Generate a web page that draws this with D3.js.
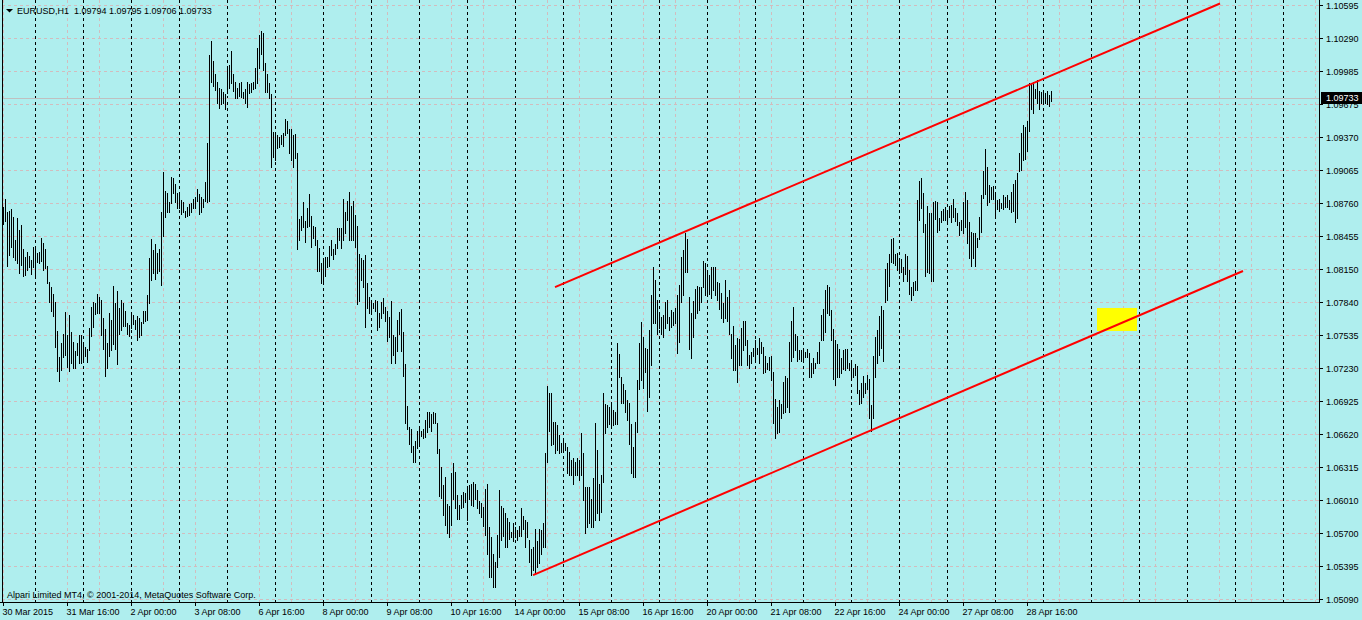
<!DOCTYPE html>
<html lang="en">
<head>
<meta charset="UTF-8">
<title>EURUSD,H1</title>
<script src="https://cdnjs.cloudflare.com/ajax/libs/d3/7.8.0/d3.min.js"></script>
<style>
  html, body { margin: 0; padding: 0; background: #afeeee; overflow: hidden; }
  svg { display: block; font-family: "Liberation Sans", Arial, sans-serif; font-size: 9px; }
  .hdr { white-space: pre; }
</style>
</head>
<body>
<svg id="chart" width="1362" height="620"></svg>
<script>
// EURUSD H1 bars, first bar 30 Mar 2015 08:00, one row per trading day
const barHigh = [
  1.0872,1.0880,1.0868,1.0869,1.0870,1.0863,1.0842,1.0862,1.0851,1.0856,1.0833,1.0826,1.0831,1.0827,1.0823,1.0835,
  1.0834,1.0830,1.0831,1.0844,1.0839,1.0833,1.0818,1.0803,1.0798,1.0792,1.0784,1.0757,1.0733,1.0746,1.0755,1.0775,1.0754,1.0772,1.0756,1.0747,1.0739,1.0746,1.0754,1.0754,
  1.0745,1.0743,1.0741,1.0760,1.0780,1.0784,1.0783,1.0792,1.0789,1.0786,1.0769,1.0759,1.0746,1.0774,1.0768,1.0799,1.0783,1.0794,1.0779,1.0786,1.0783,1.0776,1.0765,1.0763,
  1.0773,1.0772,1.0768,1.0771,1.0769,1.0766,1.0776,1.0776,1.0791,1.0825,1.0843,1.0832,1.0838,1.0830,1.0833,1.0868,1.0905,1.0887,1.0885,1.0877,1.0900,1.0899,1.0894,1.0885,
  1.0885,1.0879,1.0877,1.0869,1.0872,1.0875,1.0876,1.0880,1.0882,1.0889,1.0884,1.0882,1.0880,1.0895,1.0932,1.1013,1.1026,1.1008,1.0996,1.0988,1.0983,1.0982,1.0979,1.0977,
  1.1003,1.1004,1.1017,1.0996,1.0988,1.0983,1.0987,1.0988,1.0979,1.0982,1.0988,1.0986,1.0987,1.0988,1.1001,1.1020,1.1032,1.1035,1.1034,1.1006,1.0996,1.0987,1.0977,1.0942,
  1.0940,1.0939,1.0937,1.0939,1.0941,1.0954,1.0952,1.0945,1.0945,1.0939,1.0940,1.0922,1.0861,1.0864,1.0877,1.0859,1.0871,1.0884,1.0864,1.0855,1.0854,1.0842,1.0834,1.0820,
  1.0823,1.0826,1.0826,1.0836,1.0842,1.0833,1.0838,1.0853,1.0853,1.0853,1.0880,1.0868,1.0878,1.0886,1.0873,1.0878,1.0865,1.0855,1.0829,1.0825,1.0823,1.0828,1.0802,1.0789,
  1.0785,1.0783,1.0786,1.0785,1.0774,1.0784,1.0788,1.0780,1.0776,1.0770,1.0785,1.0754,1.0752,1.0768,1.0775,1.0778,1.0756,1.0727,1.0688,1.0668,1.0667,1.0651,1.0655,1.0665,
  1.0667,1.0665,1.0667,1.0675,1.0682,1.0682,1.0680,1.0682,1.0681,1.0672,1.0648,1.0631,1.0615,1.0622,1.0597,1.0595,1.0626,1.0635,1.0627,1.0605,1.0596,1.0605,1.0608,1.0607,
  1.0612,1.0615,1.0616,1.0617,1.0616,1.0610,1.0600,1.0598,1.0594,1.0611,1.0616,1.0576,1.0566,1.0551,1.0543,1.0568,1.0610,1.0595,1.0593,1.0589,1.0584,1.0580,1.0571,1.0579,
  1.0576,1.0573,1.0577,1.0593,1.0586,1.0582,1.0580,1.0564,1.0555,1.0557,1.0574,1.0563,1.0574,1.0573,1.0579,1.0644,1.0706,1.0700,1.0700,1.0673,1.0673,1.0670,1.0661,1.0654,
  1.0658,1.0654,1.0650,1.0645,1.0638,1.0640,1.0636,1.0640,1.0638,1.0663,1.0644,1.0613,1.0613,1.0613,1.0602,1.0621,1.0672,1.0647,1.0616,1.0624,1.0700,1.0690,1.0689,1.0687,
  1.0689,1.0684,1.0682,1.0746,1.0736,1.0715,1.0708,1.0703,1.0693,1.0691,1.0671,1.0650,1.0673,1.0712,1.0746,1.0766,1.0752,1.0742,1.0741,1.0758,1.0791,1.0817,1.0805,1.0786,
  1.0772,1.0770,1.0772,1.0784,1.0786,1.0770,1.0777,1.0775,1.0779,1.0791,1.0800,1.0826,1.0832,1.0848,1.0843,1.0789,1.0774,1.0785,1.0796,1.0799,1.0798,1.0798,1.0822,1.0820,
  1.0814,1.0809,1.0817,1.0817,1.0817,1.0803,1.0802,1.0793,1.0783,1.0805,1.0789,1.0795,1.0755,1.0762,1.0744,1.0751,1.0750,1.0760,1.0767,1.0767,1.0749,1.0735,1.0738,1.0742,
  1.0749,1.0742,1.0751,1.0747,1.0743,1.0734,1.0728,1.0733,1.0734,1.0719,1.0694,1.0687,1.0693,1.0690,1.0710,1.0716,1.0714,1.0747,1.0767,1.0780,1.0755,1.0753,1.0740,1.0740,
  1.0740,1.0738,1.0741,1.0737,1.0728,1.0732,1.0728,1.0738,1.0747,1.0772,1.0778,1.0795,1.0800,1.0798,1.0777,1.0759,1.0749,1.0745,1.0741,1.0732,1.0740,1.0741,1.0741,1.0728,
  1.0728,1.0723,1.0727,1.0725,1.0703,1.0709,1.0716,1.0709,1.0717,1.0713,1.0689,1.0734,1.0752,1.0758,1.0771,1.0781,1.0777,1.0815,1.0820,1.0829,1.0843,1.0844,1.0829,1.0830,
  1.0824,1.0824,1.0817,1.0829,1.0827,1.0814,1.0798,1.0803,1.0804,1.0879,1.0896,1.0899,1.0885,1.0857,1.0873,1.0867,1.0867,1.0877,1.0878,1.0877,1.0862,1.0869,1.0870,1.0872,
  1.0868,1.0873,1.0874,1.0880,1.0871,1.0867,1.0858,1.0860,1.0877,1.0886,1.0879,1.0858,1.0849,1.0848,1.0848,1.0844,1.0863,1.0883,1.0906,1.0926,1.0909,1.0893,1.0891,1.0892,
  1.0883,1.0879,1.0880,1.0876,1.0883,1.0882,1.0883,1.0879,1.0886,1.0894,1.0897,1.0904,1.0922,1.0941,1.0948,1.0946,1.0952,1.0987,1.0987,1.0988,1.0982,1.0990,1.0980,1.0979,
  1.0978,1.0978,1.0980,1.0976,1.09795
];
const barLow = [
  1.0857,1.0859,1.0818,1.0828,1.0835,1.0826,1.0823,1.0820,1.0811,1.0819,1.0808,1.0809,1.0814,1.0817,1.0810,1.0817,
  1.0809,1.0821,1.0820,1.0822,1.0814,1.0816,1.0802,1.0784,1.0776,1.0771,1.0743,1.0720,1.0711,1.0721,1.0733,1.0735,1.0724,1.0720,1.0728,1.0723,1.0723,1.0735,1.0728,1.0728,
  1.0730,1.0734,1.0729,1.0740,1.0753,1.0761,1.0773,1.0774,1.0774,1.0754,1.0741,1.0716,1.0723,1.0734,1.0740,1.0745,1.0741,1.0727,1.0755,1.0758,1.0762,1.0762,1.0755,1.0753,
  1.0760,1.0764,1.0759,1.0749,1.0752,1.0754,1.0765,1.0767,1.0768,1.0783,1.0805,1.0811,1.0806,1.0811,1.0813,1.0800,1.0845,1.0863,1.0868,1.0868,1.0876,1.0885,1.0877,1.0871,
  1.0871,1.0866,1.0868,1.0863,1.0864,1.0865,1.0868,1.0871,1.0871,1.0878,1.0866,1.0868,1.0872,1.0878,1.0877,1.0878,1.0988,1.0984,1.0981,1.0969,1.0964,1.0968,1.0969,1.0963,
  1.0978,1.0983,1.0987,1.0980,1.0973,1.0973,1.0975,1.0974,1.0973,1.0969,1.0965,1.0978,1.0979,1.0982,1.0983,1.0987,1.1001,1.1014,1.0999,1.0979,1.0979,1.0973,1.0909,1.0919,
  1.0916,1.0927,1.0928,1.0931,1.0929,1.0939,1.0941,1.0922,1.0916,1.0909,1.0918,1.0833,1.0842,1.0851,1.0854,1.0840,1.0854,1.0855,1.0835,1.0844,1.0837,1.0813,1.0813,1.0802,
  1.0804,1.0808,1.0817,1.0818,1.0828,1.0824,1.0829,1.0834,1.0842,1.0834,1.0842,1.0848,1.0860,1.0842,1.0842,1.0842,1.0835,1.0782,1.0785,1.0805,1.0798,1.0761,1.0779,1.0774,
  1.0775,1.0779,1.0776,1.0758,1.0761,1.0769,1.0774,1.0767,1.0748,1.0752,1.0728,1.0735,1.0728,1.0739,1.0755,1.0739,1.0716,1.0672,1.0667,1.0653,1.0645,1.0636,1.0636,1.0649,
  1.0654,1.0660,1.0658,1.0659,1.0664,1.0668,1.0665,1.0672,1.0672,1.0644,1.0604,1.0603,1.0587,1.0578,1.0570,1.0566,1.0578,1.0602,1.0593,1.0583,1.0583,1.0593,1.0594,1.0599,
  1.0582,1.0602,1.0596,1.0595,1.0602,1.0593,1.0589,1.0585,1.0577,1.0568,1.0551,1.0529,1.0529,1.0520,1.0520,1.0539,1.0548,1.0564,1.0567,1.0557,1.0557,1.0565,1.0566,1.0563,
  1.0566,1.0564,1.0567,1.0567,1.0574,1.0557,1.0566,1.0543,1.0531,1.0536,1.0533,1.0539,1.0542,1.0551,1.0557,1.0557,1.0636,1.0665,1.0652,1.0653,1.0644,1.0647,1.0644,1.0645,
  1.0647,1.0647,1.0626,1.0624,1.0624,1.0616,1.0624,1.0624,1.0619,1.0624,1.0601,1.0570,1.0576,1.0579,1.0576,1.0576,1.0582,1.0589,1.0582,1.0590,1.0617,1.0663,1.0668,1.0671,
  1.0668,1.0670,1.0671,1.0671,1.0715,1.0691,1.0691,1.0682,1.0675,1.0653,1.0626,1.0622,1.0622,1.0664,1.0704,1.0712,1.0705,1.0719,1.0683,1.0696,1.0726,1.0765,1.0765,1.0755,
  1.0760,1.0755,1.0752,1.0760,1.0765,1.0758,1.0761,1.0763,1.0765,1.0737,1.0747,1.0784,1.0791,1.0812,1.0812,1.0741,1.0732,1.0752,1.0769,1.0774,1.0777,1.0784,1.0798,1.0791,
  1.0792,1.0792,1.0788,1.0795,1.0791,1.0786,1.0778,1.0769,1.0766,1.0769,1.0767,1.0755,1.0732,1.0721,1.0721,1.0710,1.0726,1.0726,1.0740,1.0744,1.0726,1.0723,1.0728,1.0734,
  1.0730,1.0736,1.0728,1.0737,1.0718,1.0719,1.0722,1.0721,1.0712,1.0672,1.0658,1.0663,1.0664,1.0677,1.0681,1.0682,1.0687,1.0682,1.0730,1.0733,1.0740,1.0730,1.0731,1.0730,
  1.0731,1.0733,1.0733,1.0715,1.0715,1.0718,1.0723,1.0728,1.0728,1.0749,1.0749,1.0756,1.0774,1.0772,1.0749,1.0713,1.0707,1.0715,1.0715,1.0718,1.0722,1.0721,1.0723,1.0721,
  1.0715,1.0715,1.0717,1.0700,1.0690,1.0691,1.0696,1.0700,1.0704,1.0677,1.0665,1.0677,1.0715,1.0728,1.0735,1.0742,1.0730,1.0784,1.0786,1.0799,1.0821,1.0820,1.0819,1.0814,
  1.0811,1.0812,1.0804,1.0810,1.0804,1.0792,1.0786,1.0791,1.0795,1.0795,1.0860,1.0871,1.0849,1.0808,1.0812,1.0811,1.0804,1.0804,1.0861,1.0849,1.0851,1.0858,1.0860,1.0860,
  1.0859,1.0863,1.0858,1.0863,1.0859,1.0856,1.0846,1.0851,1.0848,1.0854,1.0839,1.0825,1.0818,1.0825,1.0818,1.0835,1.0843,1.0849,1.0881,1.0884,1.0874,1.0877,1.0880,1.0880,
  1.0865,1.0870,1.0869,1.0871,1.0870,1.0872,1.0872,1.0870,1.0868,1.0869,1.0858,1.0862,1.0906,1.0907,1.0916,1.0917,1.0924,1.0943,1.0963,1.0959,1.0973,1.0969,1.0963,1.0969,
  1.0969,1.0969,1.0968,1.0966,1.09706
];

const symbol = "EURUSD";
const timeframe = "H1";
const lastOHLC = [1.09794, 1.09795, 1.09706, 1.09733];

const priceTicks = [1.10595, 1.10290, 1.09985, 1.09675, 1.09370, 1.09065, 1.08760, 1.08455, 1.08150, 1.07840,
                    1.07535, 1.07230, 1.06925, 1.06620, 1.06315, 1.06010, 1.05700, 1.05395, 1.05090];

// bar index of each time label (32 bars apart)
const timeLabelBars = [0, 32, 64, 96, 128, 160, 192, 224, 256, 288, 320, 352, 384, 416, 448, 480, 512];
const timeLabelTexts = ["30 Mar 2015", "31 Mar 16:00", "2 Apr 00:00", "3 Apr 08:00", "6 Apr 16:00", "8 Apr 00:00",
  "9 Apr 08:00", "10 Apr 16:00", "14 Apr 00:00", "15 Apr 08:00", "16 Apr 16:00", "20 Apr 00:00",
  "21 Apr 08:00", "22 Apr 16:00", "24 Apr 00:00", "27 Apr 08:00", "28 Apr 16:00"];

// trend channel: [bar index, price] end points
const upperLine = [[276, 1.07981], [608.5, 1.10609]];
const lowerLine = [[265, 1.05312], [620, 1.08130]];
// yellow rectangle: bar range and price range
const zoneBars = [547, 567];
const zonePrices = [1.07574, 1.07787];

const svg = d3.select('#chart');
const plotRight = 1319, plotBottom = 602;

const x = d3.scaleLinear().domain([0, 658]).range([3, 1319]);
const y = d3.scaleLinear().domain([1.05090, 1.10595]).range([599, 5]);
const crisp = v => Math.round(v) + 0.5;

svg.append('rect').attr('width', 1362).attr('height', 620).attr('fill', '#afeeee');

// grid
const grid = svg.append('g')
  .attr('stroke', '#d2bcbe').attr('stroke-dasharray', '3,3').attr('shape-rendering', 'crispEdges');
grid.selectAll('line.h').data(priceTicks).join('line').attr('class', 'h')
  .attr('x1', 2).attr('x2', plotRight)
  .attr('y1', d => crisp(y(d))).attr('y2', d => crisp(y(d)));
grid.selectAll('line.v').data(d3.range(0, 659, 16)).join('line').attr('class', 'v')
  .attr('x1', d => crisp(x(d))).attr('x2', d => crisp(x(d)))
  .attr('y1', 0).attr('y2', plotBottom);

// period separators (one per day, 24 bars)
svg.append('g').attr('stroke', '#000').attr('stroke-dasharray', '3,3').attr('shape-rendering', 'crispEdges')
  .selectAll('line').data(d3.range(16, 659, 24)).join('line')
  .attr('x1', d => crisp(x(d))).attr('x2', d => crisp(x(d)))
  .attr('y1', 0).attr('y2', plotBottom);

// bid line
const close = lastOHLC[3];
svg.append('line').attr('x1', 2).attr('x2', plotRight)
  .attr('y1', crisp(y(close))).attr('y2', crisp(y(close)))
  .attr('stroke', '#c0c0c0').attr('shape-rendering', 'crispEdges');

// yellow zone
svg.append('rect')
  .attr('x', x(zoneBars[0])).attr('width', x(zoneBars[1]) - x(zoneBars[0]))
  .attr('y', y(zonePrices[1])).attr('height', y(zonePrices[0]) - y(zonePrices[1]))
  .attr('fill', '#ffff00');

// bars
svg.append('g').attr('fill', '#000').attr('shape-rendering', 'crispEdges')
  .selectAll('rect').data(barHigh.map((h, i) => ({ i, h, l: barLow[i] }))).join('rect')
  .attr('x', d => Math.round(x(d.i)))
  .attr('width', 1)
  .attr('y', d => Math.round(y(d.h)))
  .attr('height', d => Math.max(1, Math.round(y(d.l)) - Math.round(y(d.h)) + 1));

// trend channel
const line = d3.line().x(d => x(d[0])).y(d => y(d[1]));
svg.append('g').selectAll('path').data([upperLine, lowerLine]).join('path')
  .attr('d', line).attr('fill', 'none').attr('stroke', '#ff0000').attr('stroke-width', 2);

// frame
svg.append('g').attr('stroke', '#000').attr('shape-rendering', 'crispEdges')
  .call(g => {
    g.append('line').attr('x1', 2.5).attr('x2', 2.5).attr('y1', 0).attr('y2', plotBottom);
    g.append('line').attr('x1', plotRight + 0.5).attr('x2', plotRight + 0.5).attr('y1', 0).attr('y2', plotBottom + 0.5);
    g.append('line').attr('x1', 0).attr('x2', plotRight + 1).attr('y1', plotBottom + 0.5).attr('y2', plotBottom + 0.5);
  });

// price axis
const gy = svg.append('g').attr('transform', `translate(${plotRight},0)`)
  .call(d3.axisRight(y).tickValues(priceTicks).tickFormat(d3.format('.5f')).tickSize(4).tickPadding(3));
gy.select('.domain').remove();
gy.attr('font-family', null).attr('font-size', null);
gy.selectAll('.tick line').attr('stroke', '#000').attr('shape-rendering', 'crispEdges');
gy.selectAll('.tick text').attr('fill', '#000').attr('dy', '0.37em');

// time axis
const gx = svg.append('g').attr('transform', `translate(0,${plotBottom})`)
  .call(d3.axisBottom(x).tickValues(timeLabelBars).tickFormat((d, i) => timeLabelTexts[i]).tickSize(4));
gx.select('.domain').remove();
gx.attr('font-family', null).attr('font-size', null);
gx.selectAll('.tick line').attr('stroke', '#000').attr('shape-rendering', 'crispEdges');
gx.selectAll('.tick text').attr('fill', '#000').attr('text-anchor', 'start')
  .attr('x', -1).attr('y', 7).attr('dy', '0.71em');

// current price box
const fmt = d3.format('.5f');
svg.append('rect').attr('x', plotRight + 2).attr('y', Math.round(y(close)) - 6)
  .attr('width', 41).attr('height', 12).attr('fill', '#000');
svg.append('text').attr('x', plotRight + 7).attr('y', y(close)).attr('dy', '0.37em')
  .attr('fill', '#fff').text(fmt(close));

// header
svg.append('path').attr('d', 'M6,9 L13,9 L9.5,12.5 Z').attr('fill', '#000');
svg.append('text').attr('class', 'hdr').attr('x', 17).attr('y', 14).attr('fill', '#000')
  .text(`${symbol},${timeframe}  ` + lastOHLC.map(fmt).join(' '));

svg.append('text').attr('x', 7).attr('y', 598).attr('fill', '#000')
  .text('Alpari Limited MT4, \u00a9 2001-2014, MetaQuotes Software Corp.');
</script>
</body>
</html>
